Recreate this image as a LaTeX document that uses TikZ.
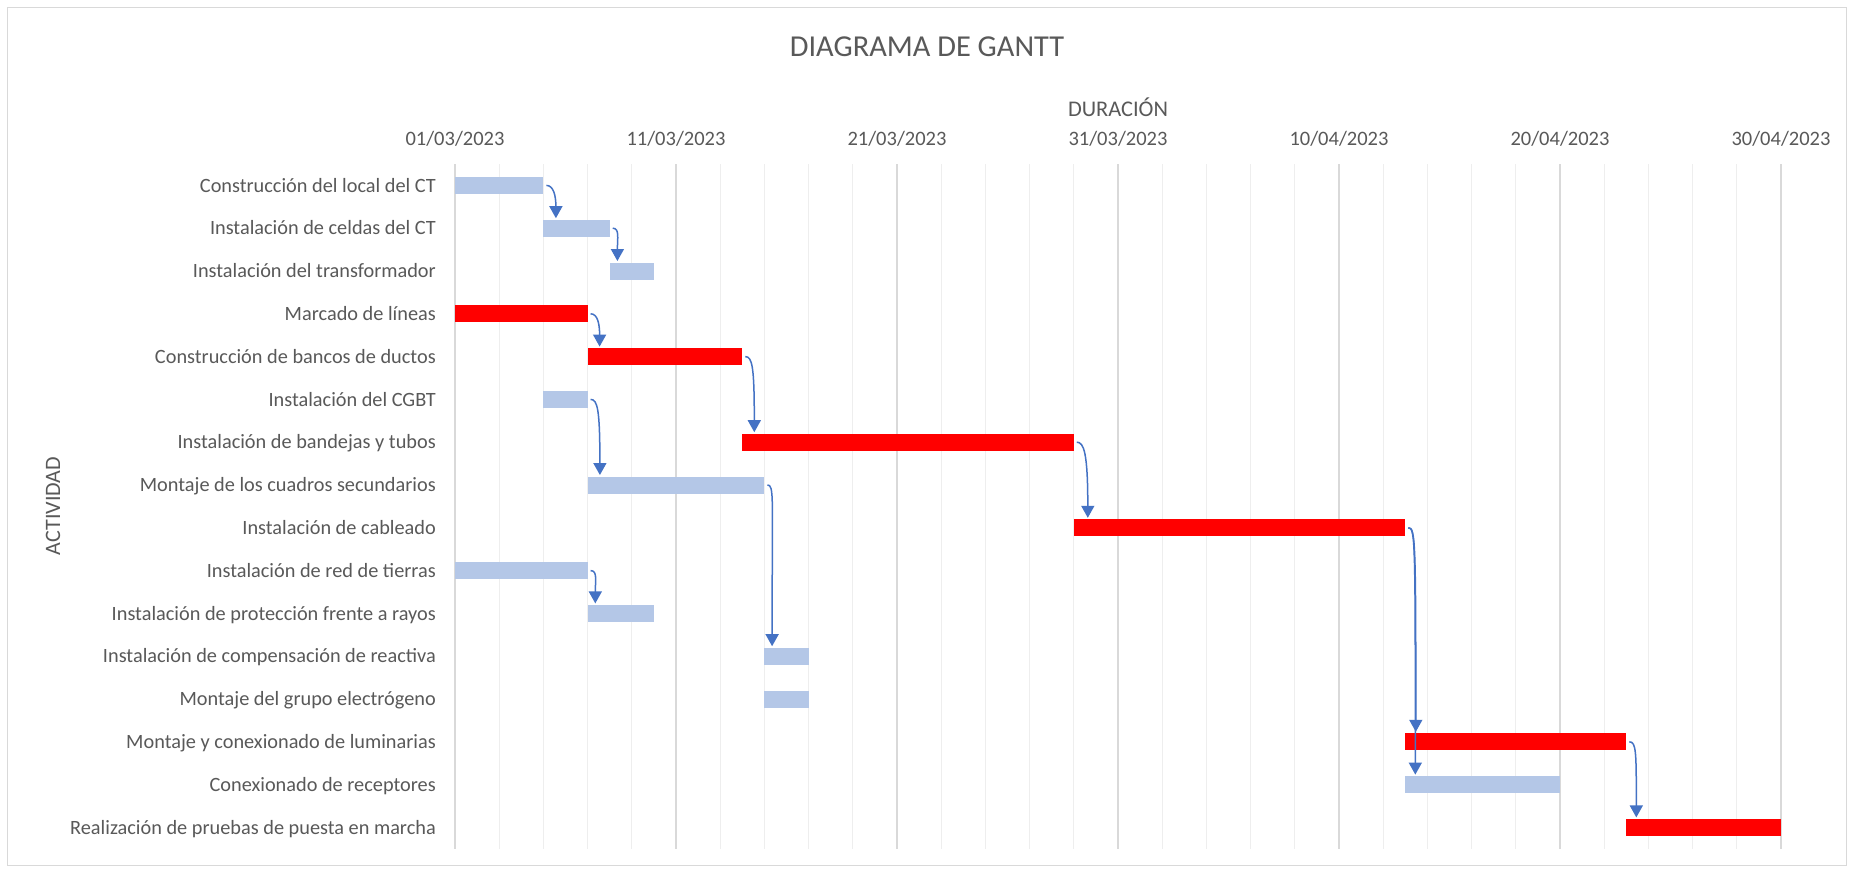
\documentclass[tikz,border=0pt]{standalone}
\usepackage{fontspec}
\setmainfont{Carlito}
\usetikzlibrary{arrows.meta,calc}
\definecolor{txt}{HTML}{595959}
\definecolor{barblue}{HTML}{B4C7E7}
\definecolor{barred}{HTML}{FF0000}
\definecolor{arrowblue}{HTML}{4472C4}
\definecolor{gridminor}{HTML}{EEEEEE}
\definecolor{gridmajor}{HTML}{D9D9D9}
\definecolor{framegray}{HTML}{D9D9D9}
\newcommand\chartfs[1]{\fontsize{#1}{#1}\selectfont}
\newcommand\ganttrow[6]{%
  \node[rowlabel] (l#1) at (436,{185.4+42.8*(#2-1)+6.6}) {#3};
  \node[#6, minimum width={22.1*(#5-#4)}] (#1) at ({455+22.1*#4},{185.4+42.8*(#2-1)}) {};
}
\newcommand\linkbars[3]{%
  \path ($(#2.north west)+(#3,-1.5)$) coordinate (e);
  \path ([xshift=3pt]#1.east) coordinate (s);
  \draw[conn] (s) .. controls +(7,0) and ($(e|-s)+(0,10)$) .. (e);
}
\begin{document}
\begin{tikzpicture}[x=1pt,y=-1pt,
  barbase/.style={draw=none, inner sep=0pt, outer sep=0pt, minimum height=17pt, anchor=west},
  bluebar/.style={barbase, fill=barblue},
  redbar/.style={barbase, fill=barred},
  rowlabel/.style={anchor=base east, text=txt, font=\chartfs{20.3}, inner sep=0pt},
  ticklabel/.style={anchor=base, text=txt, font=\chartfs{20.5}, inner sep=0pt},
  conn/.style={draw=arrowblue, line width=1.5pt, -{Triangle[width=13pt,length=12pt]}},
]
\useasboundingbox (0,0) rectangle (1854,870);
\fill[white] (0,0) rectangle (1854,870);
\draw[framegray, line width=1.2pt] (7.5,7.5) rectangle (1846.5,865.5);
% grid
\foreach \i in {0,...,30} \draw[gridminor, line width=1.3pt] ({455+44.2*\i},164) -- ({455+44.2*\i},849);
\foreach \i in {0,...,6} \draw[gridmajor, line width=1.3pt] ({455+221*\i},164) -- ({455+221*\i},849);
% titles
\node[anchor=base, text=txt, font=\chartfs{30.4}, inner sep=0pt] (title) at (927,56) {DIAGRAMA DE GANTT};
\node[anchor=base, text=txt, font=\chartfs{22.4}, inner sep=0pt] (xtitle) at (1118,116) {DURACIÓN};
\node[anchor=base, rotate=90, text=txt, font=\chartfs{22}, inner sep=0pt] (ytitle) at (60,506) {ACTIVIDAD};
% date labels
\node[ticklabel] (d0) at (455,145.7) {01/03/2023};
\node[ticklabel] (d1) at (676,145.7) {11/03/2023};
\node[ticklabel] (d2) at (897,145.7) {21/03/2023};
\node[ticklabel] (d3) at (1118,145.7) {31/03/2023};
\node[ticklabel] (d4) at (1339,145.7) {10/04/2023};
\node[ticklabel] (d5) at (1560,145.7) {20/04/2023};
\node[ticklabel] (d6) at (1781,145.7) {30/04/2023};
% rows
\ganttrow{b1}{1}{Construcción del local del CT}{0}{4}{bluebar}
\ganttrow{b2}{2}{Instalación de celdas del CT}{4}{7}{bluebar}
\ganttrow{b3}{3}{Instalación del transformador}{7}{9}{bluebar}
\ganttrow{b4}{4}{Marcado de líneas}{0}{6}{redbar}
\ganttrow{b5}{5}{Construcción de bancos de ductos}{6}{13}{redbar}
\ganttrow{b6}{6}{Instalación del CGBT}{4}{6}{bluebar}
\ganttrow{b7}{7}{Instalación de bandejas y tubos}{13}{28}{redbar}
\ganttrow{b8}{8}{Montaje de los cuadros secundarios}{6}{14}{bluebar}
\ganttrow{b9}{9}{Instalación de cableado}{28}{43}{redbar}
\ganttrow{b10}{10}{Instalación de red de tierras}{0}{6}{bluebar}
\ganttrow{b11}{11}{Instalación de protección frente a rayos}{6}{9}{bluebar}
\ganttrow{b12}{12}{Instalación de compensación de reactiva}{14}{16}{bluebar}
\ganttrow{b13}{13}{Montaje del grupo electrógeno}{14}{16}{bluebar}
\ganttrow{b14}{14}{Montaje y conexionado de luminarias}{43}{53}{redbar}
\ganttrow{b15}{15}{Conexionado de receptores}{43}{50}{bluebar}
\ganttrow{b16}{16}{Realización de pruebas de puesta en marcha}{53}{60}{redbar}
% connectors
\linkbars{b1}{b2}{12.5}
\linkbars{b2}{b3}{7.7}
\linkbars{b4}{b5}{12}
\linkbars{b5}{b7}{12}
\linkbars{b6}{b8}{12.3}
\linkbars{b7}{b9}{14}
\linkbars{b8}{b12}{7.7}
\linkbars{b9}{b14}{10.5}
\linkbars{b9}{b15}{10}
\linkbars{b10}{b11}{7.7}
\linkbars{b14}{b16}{10}
\end{tikzpicture}
\end{document}
